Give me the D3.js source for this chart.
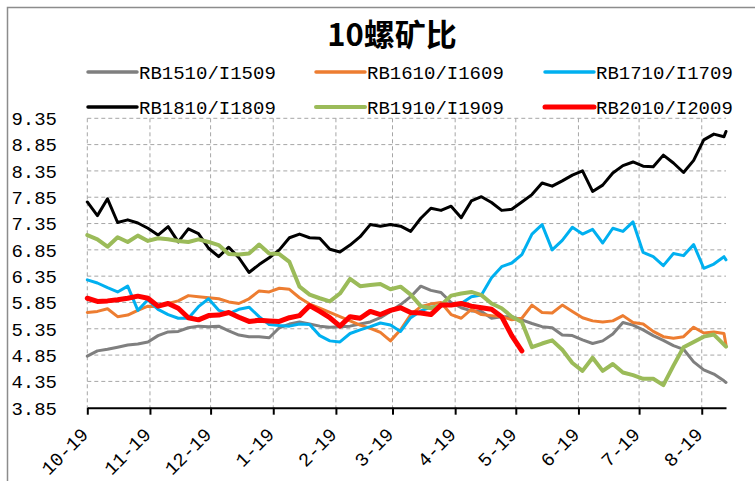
<!DOCTYPE html>
<html>
<head>
<meta charset="utf-8">
<script src="https://cdn.jsdelivr.net/npm/d3@7"></script>
<style>
  body { margin: 0; background: #fff; }
  text { font-family: "Liberation Mono", "DejaVu Sans Mono", monospace; fill: #000; }
</style>
</head>
<body>
<script>
const width = 755, height = 481;
const margin = { top: 118.3, right: 29, bottom: 73.3, left: 87.3 };

// sampling dates (month-day), Oct -> Aug
const dates = ["10-19","10-24","10-29","11-03","11-08","11-13","11-18","11-23","11-28","12-03",
  "12-08","12-13","12-18","12-23","12-28","01-02","01-07","01-12","01-17","01-22",
  "01-27","02-01","02-06","02-11","02-16","02-21","02-26","03-03","03-08","03-13",
  "03-18","03-23","03-28","04-02","04-07","04-12","04-17","04-22","04-27","05-02",
  "05-07","05-12","05-17","05-22","05-27","06-01","06-06","06-11","06-16","06-21",
  "06-26","07-01","07-06","07-11","07-16","07-21","07-26","07-31","08-05","08-10",
  "08-15","08-20","08-25","08-30","08-31"];
const tickDates = ["10-19","11-19","12-19","01-19","02-19","03-19","04-19","05-19","06-19","07-19","08-19"];
const tickLabels = ["10-19","11-19","12-19","1-19","2-19","3-19","4-19","5-19","6-19","7-19","8-19"];
const yTicks = [3.85, 4.35, 4.85, 5.35, 5.85, 6.35, 6.85, 7.35, 7.85, 8.35, 8.85, 9.35];

const seriesNames = ["RB1510/I1509","RB1610/I1609","RB1710/I1709","RB1810/I1809","RB1910/I1909","RB2010/I2009"];
const seriesColors = ["#7f7f7f","#ed7d31","#00b0f0","#000000","#9bbb59","#ff0000"];
const seriesWidths = [3, 3, 3, 3, 4, 5];

const rb1510 = [4.83,4.93,4.96,5.00,5.04,5.06,5.10,5.22,5.29,5.30,
  5.37,5.40,5.39,5.40,5.31,5.23,5.20,5.20,5.18,5.37,
  5.44,5.48,5.44,5.40,5.38,5.39,5.40,5.44,5.48,5.56,
  5.68,5.81,5.96,6.16,6.08,6.04,5.85,5.75,5.69,5.68,
  5.55,5.58,5.58,5.52,5.45,5.39,5.37,5.23,5.22,5.14,
  5.07,5.12,5.25,5.47,5.42,5.33,5.22,5.13,5.03,4.96,
  4.72,4.57,4.49,4.36,4.33];
const rb1610 = [5.66,5.68,5.73,5.58,5.61,5.70,5.78,5.77,5.83,5.88,
  5.98,5.96,5.94,5.92,5.86,5.83,5.92,6.07,6.05,6.12,
  6.10,5.94,5.82,5.74,5.66,5.58,5.50,5.42,5.36,5.28,
  5.12,5.33,5.62,5.77,5.82,5.85,5.62,5.55,5.72,5.62,
  5.60,5.58,5.52,5.55,5.80,5.66,5.65,5.80,5.68,5.56,
  5.50,5.48,5.50,5.60,5.47,5.44,5.30,5.20,5.17,5.20,
  5.38,5.27,5.29,5.26,5.04];
const rb1710 = [6.28,6.22,6.13,6.05,6.16,5.70,5.90,5.72,5.62,5.55,
  5.55,5.77,5.92,5.70,5.64,5.72,5.76,5.58,5.43,5.41,
  5.40,5.44,5.43,5.22,5.12,5.10,5.26,5.33,5.39,5.46,
  5.42,5.30,5.56,5.69,5.76,5.78,5.83,5.83,5.96,5.99,
  6.32,6.53,6.60,6.76,7.15,7.33,6.85,7.03,7.28,7.15,
  7.24,6.98,7.26,7.20,7.38,6.80,6.72,6.55,6.78,6.74,
  6.95,6.50,6.58,6.72,6.66];
const rb1810 = [7.76,7.50,7.82,7.37,7.42,7.36,7.26,7.13,7.29,7.00,
  7.25,7.16,6.88,6.72,6.90,6.70,6.42,6.57,6.70,6.85,
  7.08,7.15,7.08,7.07,6.86,6.81,6.94,7.10,7.33,7.30,
  7.33,7.30,7.20,7.45,7.64,7.60,7.68,7.46,7.78,7.86,
  7.75,7.60,7.62,7.76,7.90,8.12,8.06,8.16,8.27,8.35,
  7.96,8.08,8.31,8.45,8.52,8.44,8.43,8.65,8.50,8.32,
  8.55,8.94,9.05,9.00,9.10];
const rb1910 = [7.13,7.05,6.91,7.09,7.00,7.12,7.02,7.07,7.05,7.02,
  7.00,7.05,7.00,6.94,6.77,6.76,6.78,6.95,6.78,6.77,
  6.62,6.15,6.00,5.93,5.87,6.02,6.30,6.16,6.18,6.20,
  6.10,6.15,6.00,5.78,5.74,5.80,5.98,6.02,6.05,5.99,
  5.83,5.74,5.58,5.48,5.00,5.07,5.13,4.95,4.70,4.55,
  4.80,4.55,4.68,4.52,4.47,4.40,4.40,4.28,4.65,5.00,
  5.10,5.20,5.24,5.05,5.01];
const rb2010 = [5.93,5.87,5.88,5.90,5.93,5.97,5.93,5.78,5.83,5.74,
  5.56,5.52,5.60,5.61,5.66,5.57,5.49,5.51,5.50,5.49,
  5.56,5.60,5.79,5.68,5.56,5.40,5.58,5.55,5.68,5.62,
  5.70,5.75,5.66,5.65,5.62,5.80,5.80,5.83,5.78,5.75,
  5.72,5.58,5.22,4.93];

const allSeries = [rb1510, rb1610, rb1710, rb1810, rb1910, rb2010];

function parseMD(s) {
  const [m, d] = s.split('-').map(Number);
  return new Date(Date.UTC(m >= 10 ? 2000 : 2001, m - 1, d));
}

const x = d3.scaleUtc()
  .domain([parseMD("10-19"), parseMD("08-31")])
  .range([margin.left, width - margin.right]);
const y = d3.scaleLinear()
  .domain([3.85, 9.35])
  .range([height - margin.bottom, margin.top]);

const svg = d3.select('body').append('svg')
  .attr('width', width)
  .attr('height', height);

svg.append('rect')
  .attr('width', width).attr('height', height)
  .attr('fill', '#fff');

// chart border
svg.append('rect')
  .attr('x', 7.5).attr('y', 7.5)
  .attr('width', width).attr('height', height)
  .attr('fill', 'none')
  .attr('stroke', '#8c8c8c')
  .attr('stroke-width', 1.5);

// title
svg.append('text')
  .attr('x', 392).attr('y', 46)
  .attr('text-anchor', 'middle')
  .style('font-family', '"Noto Sans CJK SC", sans-serif')
  .style('font-size', '31px')
  .style('font-weight', 700)
  .text('10螺矿比');

// legend
const legendCols = [88, 316, 545];
const legendRows = [72, 107];
const legend = svg.append('g').attr('class', 'legend');
seriesNames.forEach((name, i) => {
  const lx = legendCols[i % 3], ly = legendRows[Math.floor(i / 3)];
  legend.append('line')
    .attr('x1', lx).attr('x2', lx + 49)
    .attr('y1', ly).attr('y2', ly)
    .attr('stroke', seriesColors[i])
    .attr('stroke-width', Math.max(3.5, seriesWidths[i]))
    .attr('stroke-linecap', 'round');
  legend.append('text')
    .attr('x', lx + 51).attr('y', ly)
    .attr('dy', '0.36em')
    .style('font-size', '19px')
    .text(name);
});

// grid
const grid = svg.append('g')
  .attr('stroke', '#a6a6a6')
  .attr('stroke-width', 1)
  .attr('stroke-dasharray', '4,3');
grid.selectAll('line.h')
  .data(yTicks.slice(1))
  .enter().append('line')
  .attr('class', 'h')
  .attr('x1', margin.left).attr('x2', width - margin.right)
  .attr('y1', d => y(d)).attr('y2', d => y(d));
grid.selectAll('line.v')
  .data(tickDates)
  .enter().append('line')
  .attr('class', 'v')
  .attr('x1', d => x(parseMD(d))).attr('x2', d => x(parseMD(d)))
  .attr('y1', y(9.35)).attr('y2', y(3.85));

// y labels
svg.append('g').selectAll('text')
  .data(yTicks)
  .enter().append('text')
  .attr('x', 57)
  .attr('y', d => y(d))
  .attr('dy', '0.36em')
  .attr('text-anchor', 'end')
  .style('font-size', '19px')
  .text(d => d3.format('.2f')(d));

// series lines
const line = d3.line()
  .x((d, i) => x(parseMD(dates[i])))
  .y(d => y(d));

svg.append('g').selectAll('path')
  .data(allSeries)
  .enter().append('path')
  .attr('d', line)
  .attr('fill', 'none')
  .attr('stroke', (d, i) => seriesColors[i])
  .attr('stroke-width', (d, i) => seriesWidths[i])
  .attr('stroke-linejoin', 'round')
  .attr('stroke-linecap', 'round');

// x axis
const xAxis = d3.axisBottom(x)
  .tickValues(tickDates.map(parseMD))
  .tickSize(7)
  .tickSizeOuter(0)
  .tickFormat('');
const gx = svg.append('g')
  .attr('transform', `translate(0,${y(3.85)})`)
  .call(xAxis);
gx.select('.domain').attr('stroke', '#000').attr('stroke-width', 2);
gx.selectAll('.tick line').attr('stroke', '#000').attr('stroke-width', 2);

svg.append('g').selectAll('text')
  .data(tickDates)
  .enter().append('text')
  .attr('transform', (d, i) => `translate(${x(parseMD(d)) + 2},${y(3.85) + 28}) rotate(-45)`)
  .attr('text-anchor', 'end')
  .style('font-size', '19px')
  .text((d, i) => tickLabels[i]);
</script>
</body>
</html>
